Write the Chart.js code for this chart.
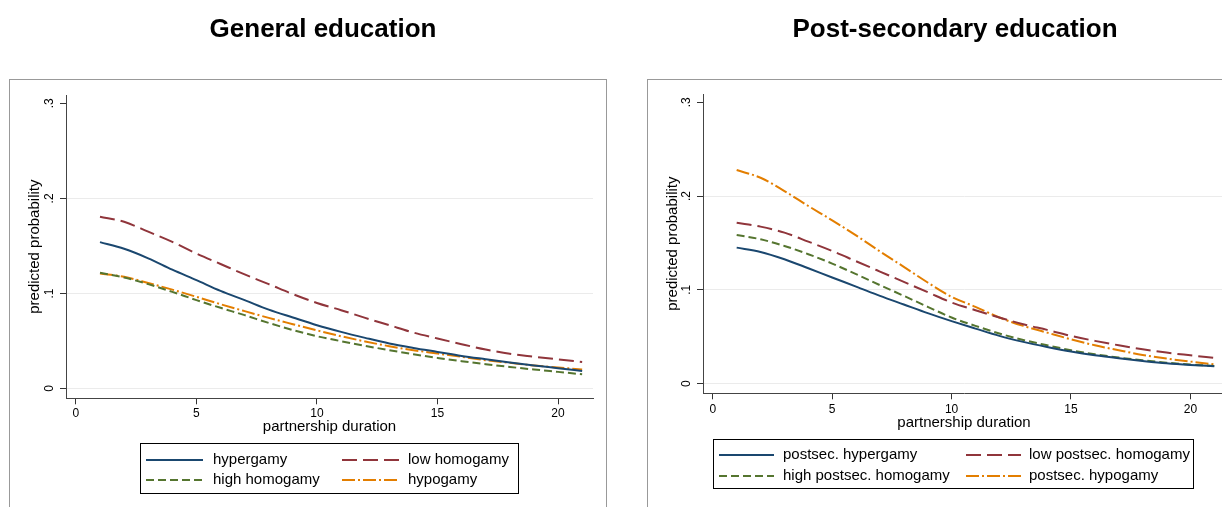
<!DOCTYPE html>
<html>
<head>
<meta charset="utf-8">
<script src="https://cdn.jsdelivr.net/npm/chart.js@4.4.1/dist/chart.umd.min.js"></script>
<style>
  body { margin: 0; background: #fff; width: 1222px; height: 507px; overflow: hidden; position: relative; }
  .panel { position: absolute; top: 0; height: 507px; }
  #p1 { left: 0; width: 611px; }
  #p2 { left: 611px; width: 614px; }
</style>
</head>
<body>
<div class="panel" id="p1"><canvas id="c1"></canvas></div>
<div class="panel" id="p2"><canvas id="c2"></canvas></div>
<script>
/* ---- data ---- */
const durations = [1,2,3,4,5,6,7,8,9,10,11,12,13,14,15,16,17,18,19,20,21];
const xTicks = [0, 5, 10, 15, 20];
const yTicks = [0, 0.1, 0.2, 0.3];
const yTickLabels = ["0", ".1", ".2", ".3"];

// General education
const genHyper    = [.154,.147,.137,.125,.114,.1027,.093,.083,.0747,.0666,.0596,.0533,.0474,.0427,.0385,.0343,.0308,.0274,.0242,.0214,.0185];
const genLowHomo  = [.1806,.1754,.165,.1543,.142,.131,.120,.1098,.0993,.090,.0824,.0743,.0666,.0589,.0526,.0466,.041,.0365,.0335,.0307,.028];
const genHighHomo = [.1217,.1168,.1098,.1017,.093,.0849,.0772,.069,.0615,.055,.0498,.0449,.0403,.0361,.0322,.0287,.0256,.0227,.02,.0175,.015];
const genHypo     = [.121,.1175,.111,.104,.0965,.0887,.0814,.0743,.0677,.0612,.055,.0495,.0445,.0403,.0368,.0333,.0298,.027,.0242,.0221,.02];
const genLabels   = ["hypergamy", "low homogamy", "high homogamy", "hypogamy"];

// Post-secondary education
const psHyper    = [.145,.1404,.1326,.123,.1131,.1035,.0936,.0844,.0752,.0667,.0587,.0509,.0445,.0391,.0342,.0302,.027,.0242,.0217,.0199,.0185];
const psLowHomo  = [.1715,.1674,.161,.1514,.1415,.1305,.1195,.1085,.0975,.0865,.0783,.0705,.0633,.0573,.0509,.0456,.0409,.0367,.0331,.0302,.0274];
const psHighHomo = [.1585,.1539,.1468,.138,.128,.1167,.105,.0936,.0819,.0705,.0616,.0534,.0466,.0409,.0356,.0313,.0278,.0249,.0224,.0203,.0189];
const psHypo     = [.2277,.2195,.2053,.1894,.1741,.158,.141,.1245,.1078,.0925,.0819,.0705,.0616,.0544,.0473,.0409,.0356,.0306,.0267,.0235,.0206];
const psLabels   = ["postsec. hypergamy", "low postsec. homogamy", "high postsec. homogamy", "postsec. hypogamy"];

/* ---- styles (Stata s2color-ish) ---- */
const colors = ["#1a476f", "#90353b", "#55752f", "#e37e00"];
const dashes = [[], [15, 6], [8, 4], [13, 3, 2, 3]];
const FONT = "'Liberation Sans', Arial, sans-serif";
Chart.defaults.font.family = FONT;

// frame + title + legend, drawn on top of the chart
function decorPlugin(g) {
  return {
    id: "decor",
    afterDraw(chart) {
      const ctx = chart.ctx;
      ctx.save();
      ctx.strokeStyle = "#999";
      ctx.lineWidth = 1;
      ctx.strokeRect(g.frame[0], g.frame[1], g.frame[2], g.frame[3]);

      ctx.fillStyle = "#000";
      ctx.font = "bold 26px " + FONT;
      ctx.textAlign = "center";
      ctx.textBaseline = "alphabetic";
      ctx.fillText(g.title, g.titleX, 37);

      const L = g.legend;
      ctx.strokeStyle = "#000";
      ctx.strokeRect(L.box[0], L.box[1], L.box[2], L.box[3]);
      ctx.font = "15px " + FONT;
      ctx.textAlign = "left";
      ctx.textBaseline = "middle";
      chart.data.datasets.forEach((ds, i) => {
        const col = i % 2, row = Math.floor(i / 2);
        const x0 = L.lineX[col][0], x1 = L.lineX[col][1], y = L.rows[row];
        ctx.beginPath();
        ctx.setLineDash(ds.borderDash);
        ctx.strokeStyle = ds.borderColor;
        ctx.lineWidth = 2;
        ctx.moveTo(x0, y); ctx.lineTo(x1, y);
        ctx.stroke();
        ctx.setLineDash([]);
        ctx.fillStyle = "#000";
        ctx.fillText(ds.label, L.textX[col], y);
      });
      ctx.restore();
    }
  };
}

function makePanel(id, g, series, labels) {
  const datasets = series.map((arr, i) => ({
    label: labels[i],
    data: durations.map((d, k) => ({ x: d, y: arr[k] })),
    borderColor: colors[i],
    borderDash: dashes[i],
    borderWidth: 2,
    pointRadius: 0,
    tension: 0.4,
    cubicInterpolationMode: "monotone",
    fill: false
  }));

  return new Chart(document.getElementById(id), {
    type: "line",
    data: { datasets },
    options: {
      responsive: true,
      maintainAspectRatio: false,
      animation: false,
      layout: { padding: { left: 0, top: g.top, right: g.padRight, bottom: 0 } },
      plugins: { legend: { display: false }, tooltip: { enabled: false } },
      scales: {
        x: {
          type: "linear",
          min: -0.41, max: 21.45,
          afterBuildTicks: s => { s.ticks = xTicks.map(v => ({ value: v })); },
          afterFit: s => { s.height = 507 - g.bottom; },
          border: { color: "#444", width: 1 },
          grid: { drawOnChartArea: false, tickLength: 6, tickColor: "#333" },
          ticks: { color: "#000", font: { size: 12 }, padding: g.xPad, maxRotation: 0 },
          title: { display: true, text: "partnership duration", color: "#000",
                   font: { size: 15 }, padding: { top: 0, bottom: g.xTitlePad } }
        },
        y: {
          min: -0.0103, max: 0.3088,
          afterBuildTicks: s => { s.ticks = yTicks.map(v => ({ value: v })); },
          afterFit: s => { s.width = g.left; },
          border: { color: "#444", width: 1 },
          grid: {
            tickLength: 6, tickColor: "#333", lineWidth: 1,
            color: c => (c.tick && c.tick.value === 0.3) ? "rgba(0,0,0,0)" : "#ebebeb"
          },
          ticks: {
            color: "#000", font: { size: 12 }, padding: 5,
            minRotation: 90, maxRotation: 90, crossAlign: "center",
            callback: v => yTickLabels[yTicks.indexOf(v)]
          },
          title: { display: true, text: "predicted probability", color: "#000",
                   font: { size: 15 }, padding: { top: g.yTitlePad, bottom: 0 } }
        }
      }
    },
    plugins: [decorPlugin(g)]
  });
}

makePanel("c1", {
  left: 66, top: 95, bottom: 398.3, padRight: 18,
  xPad: 2.5, xTitlePad: 71, yTitlePad: 26,
  frame: [9.5, 79.5, 597, 500],
  title: "General education", titleX: 323,
  legend: { box: [140.5, 443.5, 378, 50], rows: [460, 480],
            lineX: [[146, 203], [342, 400]], textX: [213, 408] }
}, [genHyper, genLowHomo, genHighHomo, genHypo], genLabels);

makePanel("c2", {
  left: 92, top: 94, bottom: 393.3, padRight: 0,
  xPad: 3.5, xTitlePad: 75, yTitlePad: 53,
  frame: [36.5, 79.5, 700, 500],
  title: "Post-secondary education", titleX: 344,
  legend: { box: [102.5, 439.5, 480, 49], rows: [455, 476],
            lineX: [[108, 163], [355, 410]], textX: [172, 418] }
}, [psHyper, psLowHomo, psHighHomo, psHypo], psLabels);
</script>
</body>
</html>
